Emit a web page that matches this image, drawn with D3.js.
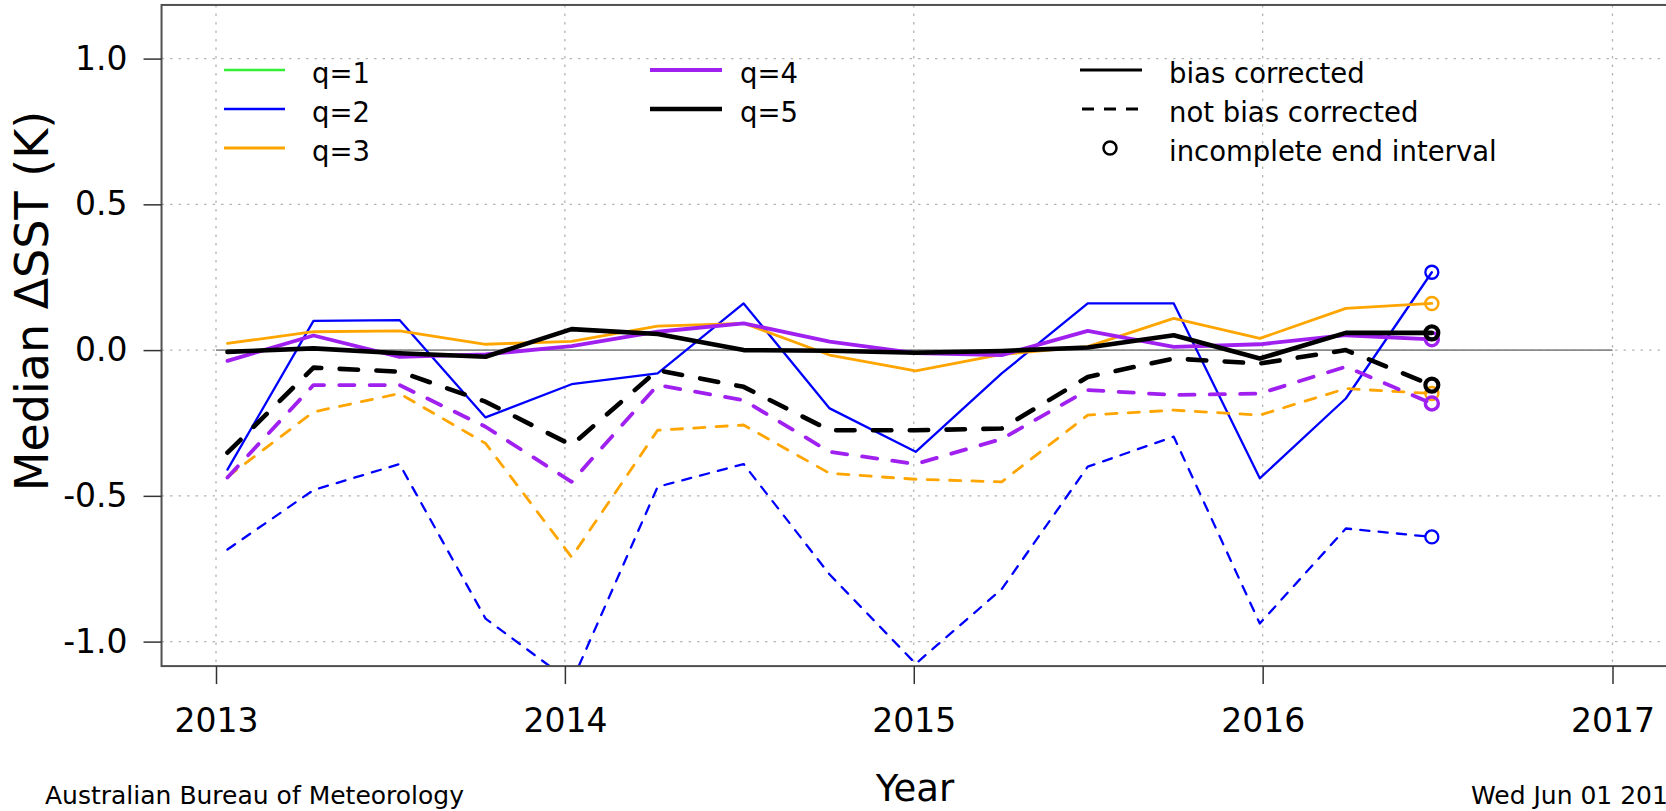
<!DOCTYPE html>
<html><head><meta charset="utf-8">
<script src="https://cdn.jsdelivr.net/npm/d3@7"></script>
<style>
body{margin:0;background:#fff;overflow:hidden}
svg{display:block}
text{font-family:"DejaVu Sans",sans-serif;fill:#000}
</style>
</head><body>
<svg id="chart" width="1666" height="811"></svg>
<script>
// ---- data ----
const dates = ["2013-01-13","2013-04-13","2013-07-12","2013-10-10","2014-01-08","2014-04-08","2014-07-07","2014-10-05","2015-01-03","2015-04-03","2015-07-02","2015-09-30","2015-12-29","2016-03-28","2016-06-26"];
const q2Bias   = [-0.41, 0.10, 0.103, -0.231, -0.117, -0.08, 0.16, -0.20, -0.349, -0.08, 0.16, 0.16, -0.44, -0.166, 0.267];
const q2NoBias = [-0.684, -0.48, -0.391, -0.921, -1.14, -0.469, -0.391, -0.77, -1.076, -0.82, -0.40, -0.297, -0.938, -0.612, -0.641];
const q3Bias   = [0.023, 0.063, 0.066, 0.02, 0.03, 0.082, 0.092, -0.017, -0.071, -0.015, 0.012, 0.109, 0.04, 0.143, 0.16];
const q3NoBias = [-0.435, -0.212, -0.149, -0.32, -0.71, -0.275, -0.257, -0.423, -0.443, -0.452, -0.223, -0.206, -0.223, -0.132, -0.149];
const q4Bias   = [-0.037, 0.05, -0.023, -0.015, 0.014, 0.063, 0.092, 0.029, -0.01, -0.017, 0.066, 0.011, 0.02, 0.051, 0.037];
const q4NoBias = [-0.437, -0.12, -0.12, -0.263, -0.452, -0.12, -0.172, -0.349, -0.391, -0.305, -0.137, -0.154, -0.149, -0.057, -0.183];
const q5Bias   = [-0.006, 0.006, -0.011, -0.023, 0.072, 0.055, 0.0, -0.002, -0.009, -0.003, 0.009, 0.051, -0.029, 0.059, 0.059];
const q5NoBias = [-0.352, -0.06, -0.074, -0.177, -0.326, -0.069, -0.126, -0.275, -0.275, -0.269, -0.092, -0.029, -0.046, 0.0, -0.12];

const seriesNames = ["q=1","q=2","q=3","q=4","q=5"];
const seriesColors = ["#33ee33","#0000ff","#ffa500","#a020f0","#000000"];
const seriesWidths = [2.3, 2.3, 2.8, 3.8, 4.6];
const yTicks = [-1.0, -0.5, 0.0, 0.5, 1.0];
const xTickLabels = ["2013","2014","2015","2016","2017"];
const styleLabels = ["bias corrected","not bias corrected","incomplete end interval"];
const xTitle = "Year";
const yTitle = "Median \u0394SST (K)";
const footLeft = "Australian Bureau of Meteorology";
const footRight = "Wed Jun 01 2016";

// ---- scales ----
const parse = d3.timeParse("%Y-%m-%d");
const yearDates = xTickLabels.map(s => parse(s + "-01-01"));
const x = d3.scaleTime().domain([yearDates[0], yearDates[4]]).range([216, 1612.5]);
const y = d3.scaleLinear().domain([-1, 1]).range([641.6, 58.6]);

const span = x.range()[1] - x.range()[0];
const box = {
  left: x.range()[0] - 0.039 * span,
  right: x.range()[1] + 0.04 * span,
  top: y(1.184),
  bottom: y(-1.084)
};

const svg = d3.select("#chart");

svg.append("defs").append("clipPath").attr("id","plotclip")
  .append("rect").attr("x", box.left).attr("y", box.top)
  .attr("width", box.right - box.left).attr("height", box.bottom - box.top);

// grid
const grid = svg.append("g");
grid.selectAll("line.h").data(yTicks).join("line")
  .attr("x1", box.left).attr("x2", box.right)
  .attr("y1", d => y(d)).attr("y2", d => y(d))
  .attr("stroke", "#b4b4b4").attr("stroke-width", 1.3).attr("stroke-dasharray", "2.5,6");
grid.selectAll("line.v").data(yearDates).join("line")
  .attr("x1", d => x(d)).attr("x2", d => x(d))
  .attr("y1", box.top).attr("y2", box.bottom)
  .attr("stroke", "#b4b4b4").attr("stroke-width", 1.3).attr("stroke-dasharray", "2.5,6");

// zero reference line
svg.append("line")
  .attr("x1", x(yearDates[0])).attr("x2", x(yearDates[4]))
  .attr("y1", y(0)).attr("y2", y(0))
  .attr("stroke", "#8a8a8a").attr("stroke-width", 1.6);

// data lines
const pts = dates.map(parse);
const lineGen = d3.line().x((d,i) => x(pts[i])).y(d => y(d));
const plot = svg.append("g").attr("clip-path", "url(#plotclip)");
const drawn = [
  {q:1, bias:q2Bias, nob:q2NoBias},
  {q:2, bias:q3Bias, nob:q3NoBias},
  {q:3, bias:q4Bias, nob:q4NoBias},
  {q:4, bias:q5Bias, nob:q5NoBias}
];
drawn.forEach(s => {
  const col = seriesColors[s.q], w = seriesWidths[s.q];
  [[s.bias, null], [s.nob, `${4*w},${4*w}`]].forEach(([vals, dash]) => {
    const p = plot.append("path").datum(vals)
      .attr("d", lineGen).attr("fill", "none")
      .attr("stroke", col).attr("stroke-width", w)
      .attr("stroke-linejoin", "round").attr("stroke-linecap", "round");
    if (dash) p.attr("stroke-dasharray", dash);
    const last = vals.length - 1;
    plot.append("circle")
      .attr("cx", x(pts[last])).attr("cy", y(vals[last]))
      .attr("r", 6.5).attr("fill", "none")
      .attr("stroke", col).attr("stroke-width", Math.max(2.3, w*0.9));
  });
});

// box
svg.append("rect")
  .attr("x", box.left).attr("y", box.top)
  .attr("width", box.right - box.left).attr("height", box.bottom - box.top)
  .attr("fill", "none").attr("stroke", "#505050").attr("stroke-width", 2);

// axes
const yAxis = d3.axisLeft(y).tickValues(yTicks).tickFormat(d => d.toFixed(1)).tickSize(18).tickPadding(16);
const gy = svg.append("g").attr("transform", `translate(${box.left},0)`).call(yAxis);
gy.select(".domain").remove();
gy.selectAll(".tick line").attr("stroke", "#333").attr("stroke-width", 1.5);
gy.selectAll(".tick text").attr("font-size", 33).attr("font-family", "DejaVu Sans").attr("fill", "#000");

const xAxis = d3.axisBottom(x).tickValues(yearDates).tickFormat((d,i) => xTickLabels[i]).tickSize(18);
const gx = svg.append("g").attr("transform", `translate(0,${box.bottom})`).call(xAxis);
gx.select(".domain").remove();
gx.selectAll(".tick line").attr("stroke", "#333").attr("stroke-width", 1.5);
gx.selectAll(".tick text").attr("font-size", 33).attr("font-family", "DejaVu Sans").attr("fill", "#000")
  .attr("y", 66).attr("dy", 0);

// titles
svg.append("text").attr("x", 915).attr("y", 801).attr("text-anchor", "middle")
  .attr("font-size", 37).text(xTitle);
svg.append("text").attr("transform", `translate(48,301) rotate(-90)`).attr("text-anchor", "middle")
  .attr("font-size", 46).text(yTitle);
svg.append("text").attr("x", 45).attr("y", 804).attr("font-size", 25).text(footLeft);
svg.append("text").attr("x", 1471).attr("y", 804).attr("font-size", 25).text(footRight);

// legend
const rowY = [70, 109, 148];
const leg = svg.append("g");
const cols = [
  {lx1: 224, lx2: 285, tx: 312, items: [0,1,2]},
  {lx1: 650, lx2: 722, tx: 740, items: [3,4]}
];
cols.forEach(c => {
  c.items.forEach((qi, r) => {
    leg.append("line").attr("x1", c.lx1).attr("x2", c.lx2)
      .attr("y1", rowY[r]).attr("y2", rowY[r])
      .attr("stroke", seriesColors[qi]).attr("stroke-width", seriesWidths[qi]);
    leg.append("text").attr("x", c.tx).attr("y", rowY[r] + 13).attr("font-size", 27.5).text(seriesNames[qi]);
  });
});
// style legend
leg.append("line").attr("x1", 1080).attr("x2", 1142).attr("y1", rowY[0]).attr("y2", rowY[0])
  .attr("stroke", "#000").attr("stroke-width", 3);
leg.append("line").attr("x1", 1082).attr("x2", 1142).attr("y1", rowY[1]).attr("y2", rowY[1])
  .attr("stroke", "#000").attr("stroke-width", 3).attr("stroke-dasharray", "12,10");
leg.append("circle").attr("cx", 1110).attr("cy", rowY[2]).attr("r", 6.5)
  .attr("fill", "none").attr("stroke", "#000").attr("stroke-width", 2.5);
styleLabels.forEach((t, r) => {
  leg.append("text").attr("x", 1169).attr("y", rowY[r] + 13).attr("font-size", 27.5).text(t);
});
</script>
</body></html>
